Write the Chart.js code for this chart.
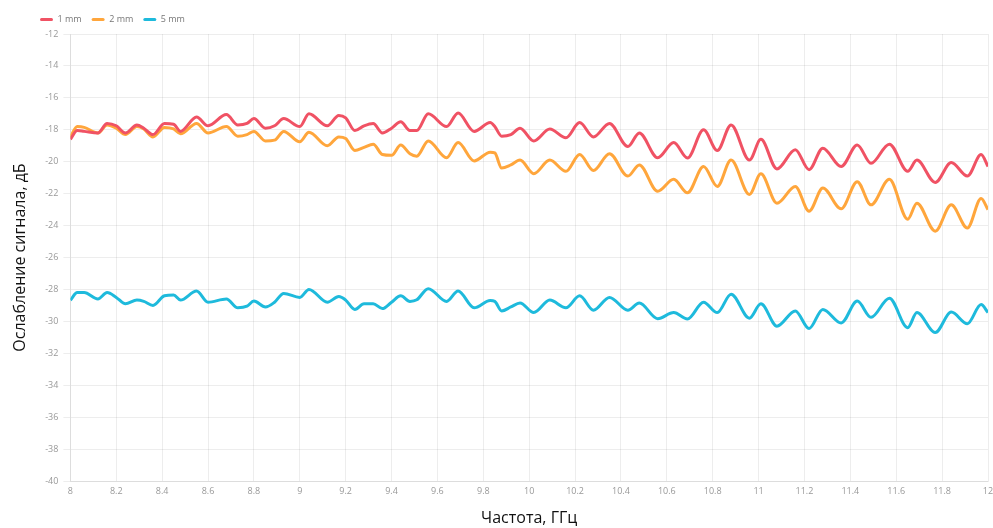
<!DOCTYPE html>
<html>
<head>
<meta charset="utf-8">
<script src="https://cdn.jsdelivr.net/npm/chart.js@4/dist/chart.umd.min.js"></script>
<style>
  html, body { margin: 0; padding: 0; background: #fff; }
  #wrap { width: 993px; height: 528px; }
</style>
</head>
<body>
<div id="wrap"><canvas id="chart" width="993" height="528"></canvas></div>
<script>
// frequency, GHz
const freq = [8.00, 8.03, 8.06, 8.12, 8.16, 8.20, 8.24, 8.29, 8.32, 8.36, 8.41, 8.45, 8.48, 8.55, 8.60,
  8.68, 8.73, 8.77, 8.80, 8.85, 8.89, 8.93, 9.00, 9.04, 9.12, 9.17, 9.20, 9.24, 9.28, 9.32, 9.36, 9.40,
  9.44, 9.48, 9.51, 9.56, 9.64, 9.69, 9.76, 9.83, 9.85, 9.88, 9.92, 9.96, 10.02, 10.09, 10.16, 10.22,
  10.28, 10.35, 10.43, 10.48, 10.56, 10.63, 10.69, 10.76, 10.82, 10.88, 10.96, 11.01, 11.08, 11.16,
  11.22, 11.28, 11.36, 11.43, 11.49, 11.57, 11.65, 11.69, 11.77, 11.84, 11.91, 11.97, 12.00];

// attenuation, dB
const mm1 = [-18.6, -18.05, -18.1, -18.2, -17.6, -17.75, -18.2, -17.7, -17.9, -18.3, -17.6, -17.65, -18.1, -17.2, -17.75,
  -17.05, -17.7, -17.6, -17.3, -17.9, -17.75, -17.3, -17.8, -17.0, -17.75, -17.1, -17.25, -18.05, -17.75, -17.6, -18.2, -17.9,
  -17.5, -18.05, -18.05, -17.0, -17.8, -16.95, -18.1, -17.55, -17.8, -18.4, -18.3, -17.9, -18.7, -17.95, -18.5, -17.55,
  -18.45, -17.6, -19.05, -18.2, -19.75, -18.8, -19.77, -18.0, -19.3, -17.7, -19.9, -18.6, -20.45, -19.25,
  -20.5, -19.15, -20.3, -18.95, -20.1, -18.9, -20.6, -19.9, -21.3, -20.05, -20.9, -19.55, -20.3];

const mm2 = [-18.45, -17.8, -17.85, -18.2, -17.7, -17.9, -18.3, -17.8, -17.95, -18.45, -17.85, -17.95, -18.25, -17.6, -18.2,
  -17.8, -18.4, -18.3, -18.1, -18.7, -18.65, -18.1, -18.75, -18.15, -19.0, -18.45, -18.55, -19.3, -19.1, -18.9, -19.55, -19.6,
  -18.95, -19.5, -19.65, -18.7, -19.75, -18.8, -19.95, -19.4, -19.45, -20.4, -20.2, -19.9, -20.75, -19.9, -20.6, -19.55,
  -20.55, -19.5, -20.9, -20.2, -21.85, -21.1, -21.95, -20.3, -21.55, -19.9, -22.05, -20.75, -22.6, -21.55,
  -23.1, -21.65, -22.95, -21.25, -22.7, -21.1, -23.6, -22.6, -24.35, -22.7, -24.15, -22.3, -23.0];

const mm5 = [-28.67, -28.2, -28.2, -28.6, -28.2, -28.5, -28.9, -28.67, -28.75, -29.0, -28.4, -28.35, -28.67, -28.1, -28.8,
  -28.6, -29.15, -29.05, -28.73, -29.1, -28.8, -28.25, -28.5, -28.0, -28.8, -28.45, -28.67, -29.25, -28.9, -28.9, -29.2, -28.8,
  -28.4, -28.75, -28.65, -27.95, -28.75, -28.1, -29.15, -28.7, -28.75, -29.35, -29.1, -28.85, -29.45, -28.67, -29.15, -28.4,
  -29.3, -28.5, -29.3, -28.85, -29.83, -29.45, -29.85, -28.8, -29.45, -28.3, -29.8, -28.9, -30.3, -29.35,
  -30.45, -29.25, -30.1, -28.73, -29.75, -28.55, -30.4, -29.45, -30.7, -29.42, -30.15, -28.95, -29.45];

const seriesNames = ['1 mm', '2 mm', '5 mm'];
const seriesColors = ['rgb(240, 82, 100)', 'rgb(255, 166, 60)', 'rgb(30, 186, 220)'];

const font = '"Open Sans", "DejaVu Sans", sans-serif';

function makeSet(name, values, color) {
  return {
    label: name,
    data: freq.map((f, i) => ({ x: f, y: values[i] })),
    borderColor: color,
    backgroundColor: color,
    borderWidth: 3,
    pointRadius: 0,
    tension: 0.4,
    cubicInterpolationMode: 'monotone'
  };
}

// legend sits a bit to the right of the canvas edge
const legendShift = {
  id: 'legendShift',
  afterLayout(chart) {
    chart.legend.left += 19;
  }
};

new Chart(document.getElementById('chart').getContext('2d'), {
  type: 'line',
  data: {
    datasets: [
      makeSet(seriesNames[0], mm1, seriesColors[0]),
      makeSet(seriesNames[1], mm2, seriesColors[1]),
      makeSet(seriesNames[2], mm5, seriesColors[2])
    ]
  },
  options: {
    responsive: false,
    animation: false,
    layout: { padding: { left: 11, right: 5, top: 5, bottom: 0 } },
    scales: {
      x: {
        type: 'linear',
        min: 8,
        max: 12,
        // let the last label run over the edge, as in the original
        afterFit(scale) { scale.paddingRight = 0; },
        ticks: {
          stepSize: 0.2,
          color: '#999',
          font: { family: font, size: 9 },
          maxRotation: 0,
          padding: 5,
          callback: (v) => String(Number(v.toFixed(1)))
        },
        grid: { color: 'rgba(0,0,0,0.07)', drawTicks: false },
        border: { color: 'rgba(0,0,0,0.07)' },
        title: {
          display: true,
          text: 'Частота, ГГц',
          color: '#111',
          font: { family: font, size: 16 },
          padding: { top: 7, bottom: 0 }
        }
      },
      y: {
        min: -40,
        max: -12,
        ticks: {
          stepSize: 2,
          color: '#999',
          font: { family: font, size: 9 },
          padding: 5
        },
        grid: { color: 'rgba(0,0,0,0.07)', tickLength: 7 },
        border: { color: 'rgba(0,0,0,0.07)' },
        title: {
          display: true,
          text: 'Ослабление сигнала, дБ',
          color: '#111',
          font: { family: font, size: 16 },
          padding: { top: 0, bottom: 10 }
        }
      }
    },
    plugins: {
      legend: {
        display: true,
        position: 'top',
        align: 'start',
        labels: {
          boxWidth: 13,
          boxHeight: 3,
          useBorderRadius: true,
          borderRadius: 1.5,
          padding: 10,
          color: '#777',
          font: { family: font, size: 9 },
          generateLabels(chart) {
            return Chart.defaults.plugins.legend.labels.generateLabels(chart).map(item => {
              item.lineWidth = 0;
              return item;
            });
          }
        }
      },
      tooltip: { enabled: false }
    }
  },
  plugins: [legendShift]
});
</script>
</body>
</html>
